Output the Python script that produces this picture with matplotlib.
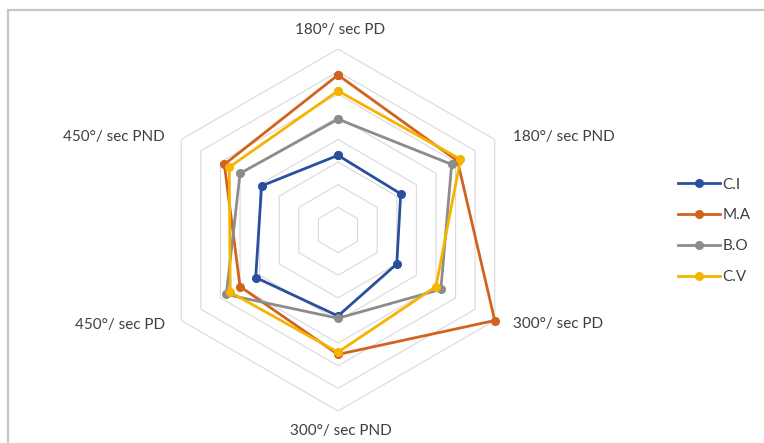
import numpy as np
import matplotlib
matplotlib.use("Agg")
import matplotlib.pyplot as plt
from matplotlib.lines import Line2D

plt.rcParams["font.family"] = ["Lato", "DejaVu Sans"]

# axes, clockwise from the top
categories = ["180°/ sec PD", "180°/ sec PND", "300°/ sec PD",
              "300°/ sec PND", "450°/ sec PD", "450°/ sec PND"]

series_names = ["C.I", "M.A", "B.O", "C.V"]
ci = [3.3, 3.2, 3.0, 3.8, 4.2, 3.9]
ma = [6.85, 6.1, 8.0, 5.5, 5.0, 5.8]
bo = [4.9, 5.8, 5.25, 3.9, 5.7, 5.0]
cv = [6.15, 6.25, 5.0, 5.4, 5.5, 5.55]

grid_levels = [1, 2, 3, 4, 5, 6, 7, 8]

COLORS = {
    "C.I": "#2A4F9E",
    "M.A": "#D2631D",
    "B.O": "#8C8C8C",
    "C.V": "#F4B400",
}

W, H = 764, 443
fig = plt.figure(figsize=(W / 100, H / 100), dpi=100)

# polar axes centred at (338, 230) px, radius 181 px
cx, cy, R = 338, 230, 181
ax = fig.add_axes([(cx - R) / W, (H - cy - R) / H, 2 * R / W, 2 * R / H],
                  projection="polar")
ax.set_theta_offset(np.pi / 2)
ax.set_theta_direction(-1)
ax.set_ylim(0, 8)
ax.grid(False)
ax.spines["polar"].set_visible(False)
ax.set_xticks([])
ax.set_yticks([])
ax.patch.set_alpha(0)

n = len(categories)
theta = np.linspace(0, 2 * np.pi, n, endpoint=False)
theta_closed = np.append(theta, theta[0])

# hexagonal grid rings
for lvl in grid_levels:
    ax.plot(theta_closed, [lvl] * (n + 1), color="#D9D9D9", lw=0.8, zorder=1)

for name, vals in zip(series_names, [ci, ma, bo, cv]):
    v = vals + vals[:1]
    ax.plot(theta_closed, v, color=COLORS[name], lw=2.0, marker="o",
            markersize=5.5, label=name, zorder=3, clip_on=False)

# category labels (pixel positions of text)
txt_kw = dict(fontsize=11, color="#404040")
labels_px = [
    (340, 30, "center"),
    (513, 137, "left"),
    (513, 324, "left"),
    (341, 431, "center"),
    (165, 325, "right"),
    (165, 137, "right"),
]
for cat, (x, y, ha) in zip(categories, labels_px):
    fig.text(x / W, 1 - y / H, cat, ha=ha, va="center", **txt_kw)

leg = fig.legend(loc="upper left", bbox_to_anchor=(670 / W, 1 - 170 / H),
                 frameon=False, fontsize=11, handlelength=2.8,
                 handletextpad=0.12, labelspacing=1.1, borderpad=0)
for t in leg.get_texts():
    t.set_color("#404040")

# partial chart-area border (left and top)
fig.add_artist(Line2D([7.5 / W, 7.5 / W], [0, 1 - 9.5 / H],
                      transform=fig.transFigure, color="#C8C8C8", lw=1.6))
fig.add_artist(Line2D([7.5 / W, 1], [1 - 9.5 / H, 1 - 9.5 / H],
                      transform=fig.transFigure, color="#C8C8C8", lw=1.6))

fig.savefig("out.png", dpi=100)
